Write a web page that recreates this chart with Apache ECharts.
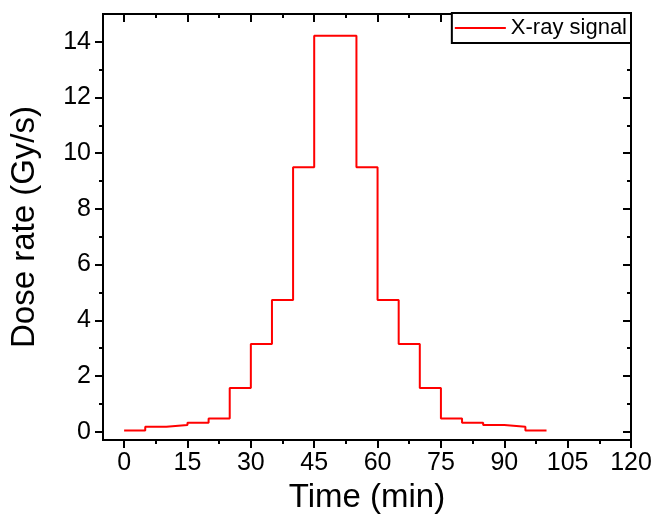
<!DOCTYPE html>
<html>
<head>
<meta charset="utf-8">
<script src="https://cdn.jsdelivr.net/npm/echarts@6/dist/echarts.min.js"></script>
<style>html,body{margin:0;padding:0;background:#fff}#c{width:658px;height:519px}</style>
</head>
<body>
<div id="c"></div>
<script>
// Step start times (min) and dose rate (Gy/s) over each 5-min step; last point closes the final step
const times = [0,5,10,15,20,25,30,35,40,45,50,55,60,65,70,75,80,85,90,95,100];
const doseRate = [0.04,0.18,0.24,0.32,0.47,1.57,3.15,4.73,9.5,14.22,14.22,9.5,4.73,3.15,1.57,0.47,0.32,0.24,0.18,0.04,0.04];
const xMajorTicks = [0,15,30,45,60,75,90,105,120];
const xMinorTicks = [7.5,22.5,37.5,52.5,67.5,82.5,97.5,112.5];
const yMajorTicks = [0,2,4,6,8,10,12,14];
const yMinorTicks = [1,3,5,7,9,11,13];
const seriesName = 'X-ray signal';
const xTitle = 'Time (min)';
const yTitle = 'Dose rate (Gy/s)';

const FONT = '"Liberation Sans", Arial, sans-serif';
const X_MIN = -5, X_MAX = 120, Y_MIN = -0.3, Y_MAX = 15;

function xAx(pos, ticks, len, inside, labels, name) {
  return {
    type: 'value', position: pos, min: X_MIN, max: X_MAX,
    axisLine: { show: true, onZero: false, lineStyle: { color: '#000', width: 2 } },
    axisTick: { show: true, customValues: ticks, length: len, inside: inside, lineStyle: { color: '#000', width: 2 } },
    axisLabel: labels ? { show: true, customValues: ticks, fontSize: 25, color: '#000', fontFamily: FONT, margin: 11 } : { show: false },
    splitLine: { show: false },
    name: name || '', nameLocation: 'middle', nameGap: 41,
    nameTextStyle: { fontSize: 33, color: '#000', fontFamily: FONT }
  };
}
function yAx(pos, ticks, len, inside, labels, name) {
  return {
    type: 'value', position: pos, min: Y_MIN, max: Y_MAX,
    axisLine: { show: true, onZero: false, lineStyle: { color: '#000', width: 2 } },
    axisTick: { show: true, customValues: ticks, length: len, inside: inside, lineStyle: { color: '#000', width: 2 } },
    axisLabel: labels ? { show: true, customValues: ticks, fontSize: 25, color: '#000', fontFamily: FONT, margin: 12 } : { show: false },
    splitLine: { show: false },
    name: name || '', nameLocation: 'middle', nameGap: 62,
    nameTextStyle: { fontSize: 33, color: '#000', fontFamily: FONT }
  };
}

const chart = echarts.init(document.getElementById('c'), null, { renderer: 'canvas' });
chart.setOption({
  animation: false,
  backgroundColor: '#fff',
  grid: { left: 103, right: 27, top: 14, bottom: 79, containLabel: false },
  legend: {
    data: [{ name: seriesName, icon: 'rect' }], right: 27, top: 13, orient: 'horizontal',
    backgroundColor: '#fff', borderColor: '#000', borderWidth: 2,
    padding: [4, 4, 4, 3], itemWidth: 51, itemHeight: 2, itemGap: 5,
    itemStyle: { color: '#ff0000', borderWidth: 0 },
    textStyle: { fontSize: 22, color: '#000', fontFamily: FONT, lineHeight: 22 }
  },
  xAxis: [
    xAx('bottom', xMajorTicks, 8, false, true, xTitle),
    xAx('bottom', xMinorTicks, 4, false, false),
    xAx('top', xMajorTicks, 8, true, false),
    xAx('top', xMinorTicks, 4, true, false)
  ],
  yAxis: [
    yAx('left', yMajorTicks, 8, false, true, yTitle),
    yAx('left', yMinorTicks, 4, false, false),
    yAx('right', yMajorTicks, 8, true, false),
    yAx('right', yMinorTicks, 4, true, false)
  ],
  series: [{
    name: seriesName, type: 'line', step: 'end', symbol: 'none',
    xAxisIndex: 0, yAxisIndex: 0,
    lineStyle: { color: '#ff0000', width: 2 }, itemStyle: { color: '#ff0000' },
    data: times.map((t, i) => [t, doseRate[i]])
  }]
});
</script>
</body>
</html>
